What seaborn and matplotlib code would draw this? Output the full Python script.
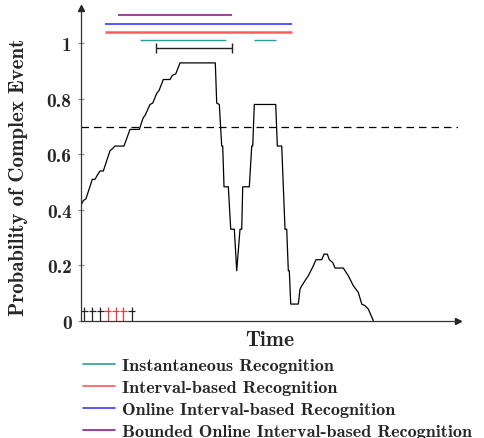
import seaborn as sns
import matplotlib.pyplot as plt
from matplotlib.lines import Line2D
import pandas as pd

# Probability curve of the complex event over time
time = [0, 2.6, 5.3, 11.6, 14.3, 16.6, 19.3, 22.6, 29.3, 31.6, 34.3, 43.3, 49.3, 58.6,
        62.6, 64.3, 69.3, 72, 76, 78.3, 82.6, 89.3, 91.6, 95, 99.3, 134.6, 136, 138.6,
        141, 142, 143.3, 147.6, 150, 153.6, 156, 159.3, 161, 162, 168.6, 171, 172, 173.6,
        195, 196.6, 201, 204.3, 206, 207.6, 208.6, 210, 217.6, 219.3, 221, 225.3, 227.6,
        232.6, 235.3, 241, 243.3, 246.6, 248.6, 252, 254.3, 262.6, 267.6, 272.6, 277.6,
        281, 284.3, 287.6, 292.6]
prob = [0.415, 0.433, 0.44, 0.51, 0.51, 0.525, 0.54, 0.54, 0.613, 0.62, 0.63, 0.63, 0.69, 0.69,
        0.733, 0.74, 0.78, 0.785, 0.82, 0.83, 0.87, 0.87, 0.885, 0.89, 0.93, 0.93, 0.785, 0.78,
        0.63, 0.63, 0.483, 0.483, 0.33, 0.33, 0.18, 0.33, 0.33, 0.483, 0.483, 0.63, 0.63, 0.78,
        0.78, 0.63, 0.63, 0.33, 0.33, 0.18, 0.18, 0.06, 0.06, 0.114, 0.126, 0.15, 0.162,
        0.198, 0.22, 0.22, 0.24, 0.24, 0.22, 0.21, 0.19, 0.19, 0.162, 0.126, 0.102,
        0.06, 0.054, 0.042, 0.0]
threshold = 0.7

# recognised intervals (start, end)
instant_iv = [(59.3, 145), (173.6, 195)]
interval_iv = [(24.3, 211.6)]
online_iv = [(24.3, 211.6)]
bounded_iv = [(37.6, 151)]
window = (75.3, 151)

# input events on the time axis
event_t = [3.3, 11.6, 19.3, 27, 35, 42.6, 51]
event_c = ['#222222', '#222222', '#222222', '#ff3030', '#ff3030', '#ff3030', '#222222']

labels = ['Instantaneous Recognition', 'Interval-based Recognition',
          'Online Interval-based Recognition', 'Bounded Online Interval-based Recognition']
colors = ['#2a9d9a', '#ff5a5a', '#3a3aff', '#8e1f8e']

sns.set_theme(style='white')
plt.rcParams['font.family'] = ['cmb10', 'DejaVu Serif']

fig = plt.figure(figsize=(4.85, 4.39), dpi=100)
ax = fig.add_axes([0.1664, 0.2672, 0.778, 0.7123])

df = pd.DataFrame({'t': time, 'p': prob})
sns.lineplot(data=df, x='t', y='p', color='black', lw=0.9, ax=ax, sort=False)

ax.axhline(threshold, color='black', lw=0.9, ls=(0, (6, 4)))

for a, b in instant_iv:
    ax.hlines(1.012, a, b, color=colors[0], lw=1.0)
for a, b in interval_iv:
    ax.hlines(1.042, a, b, color=colors[1], lw=1.8)
for a, b in online_iv:
    ax.hlines(1.072, a, b, color=colors[2], lw=1.2)
for a, b in bounded_iv:
    ax.hlines(1.103, a, b, color=colors[3], lw=1.2)

ax.hlines(0.982, window[0], window[1], color='#222222', lw=1.0)
ax.vlines(window, 0.964, 1.0, color='#222222', lw=1.0)

for t, c in zip(event_t, event_c):
    ax.vlines(t, 0, 0.05, color=c, lw=0.9)
    ax.hlines(0.036, t - 3.5, t + 3.5, color=c, lw=0.9)

ax.set_xlim(0, 377.3)
ax.set_ylim(0, 1.128)
ax.set_xticks([])
ax.set_yticks([0, 0.2, 0.4, 0.6, 0.8, 1])
ax.set_yticklabels(['0', '0.2', '0.4', '0.6', '0.8', '1'], fontsize=14)
ax.tick_params(axis='y', direction='inout', length=5, width=0.8, color='#888888', pad=4, left=True)
for s in ['top', 'right']:
    ax.spines[s].set_visible(False)
for s in ['left', 'bottom']:
    ax.spines[s].set_color('#333333')
    ax.spines[s].set_linewidth(0.9)
ax.plot(1, 0, '>', color='#222222', ms=4, transform=ax.transAxes, clip_on=False)
ax.plot(0, 1, '^', color='#222222', ms=4, transform=ax.transAxes, clip_on=False)

ax.set_xlabel('Time', fontsize=15.5)
ax.xaxis.set_label_coords(0.5, -0.031)
ax.set_ylabel('Probability of Complex Event', fontsize=15)
ax.yaxis.set_label_coords(-0.14, 0.46)

handles = [Line2D([], [], color=c, lw=1.2) for c in colors]
fig.legend(handles, labels, loc='upper left', bbox_to_anchor=(0.171, 0.184),
           frameon=False, fontsize=13.1, borderpad=0, borderaxespad=0,
           handlelength=1.78, handletextpad=0.34, labelspacing=0.35)

fig.savefig('out.png', dpi=100)
